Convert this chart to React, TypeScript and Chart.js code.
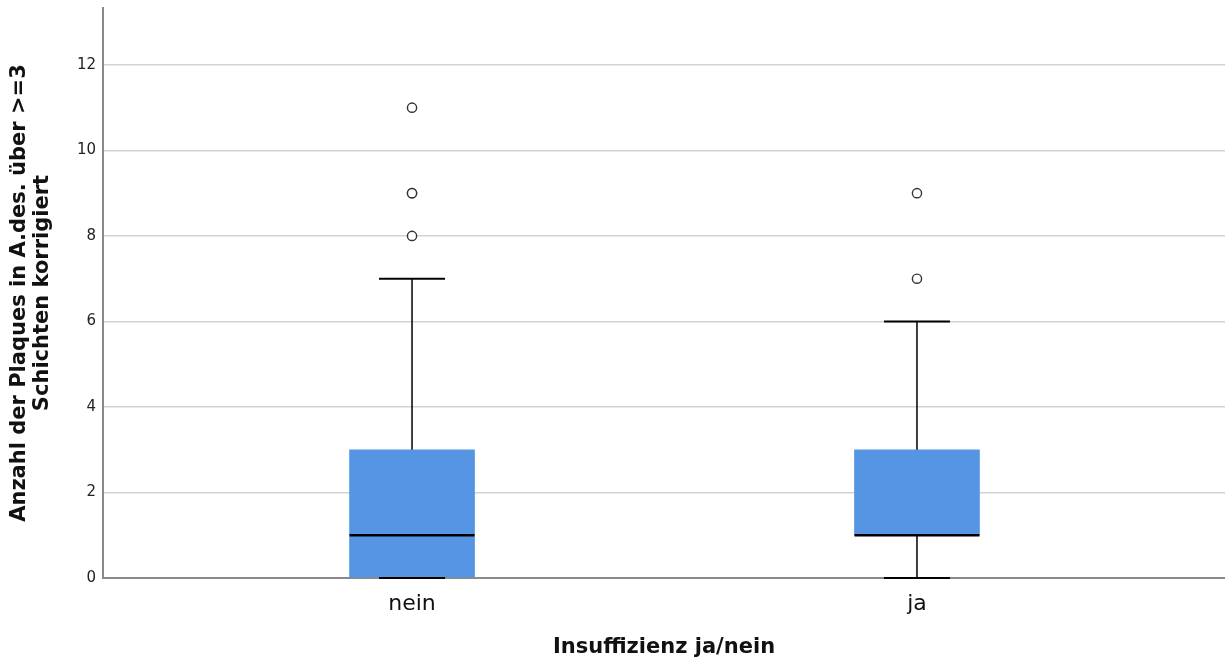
import React, { useEffect, useRef } from "react";
import { Chart, registerables } from "chart.js";

Chart.register(...registerables);

const categories = ["nein", "ja"];
const q1 = [0, 1];
const q3 = [3, 3];
const medians = [1, 1];
const whiskerLow = [0, 0];
const whiskerHigh = [7, 6];
const outliersNein = [8, 9, 9, 11];
const outliersJa = [7, 9];
const outliers = [outliersNein, outliersJa];
const yTicks = [0, 2, 4, 6, 8, 10, 12];

const FONT = "'DejaVu Sans', sans-serif";
const BOX_COLOR = "#5595e3";

const boxPlugin = {
  id: "boxWhiskers",
  afterDatasetsDraw(chart: any) {
    const { ctx, scales } = chart;
    const xs = scales.x;
    const ys = scales.y;
    const capHalf = 33;
    const boxHalf = 62.5;
    ctx.save();
    ctx.strokeStyle = "#000";
    categories.forEach((_, i) => {
      const cx = xs.getPixelForValue(i);
      ctx.lineWidth = 1.5;
      ctx.beginPath();
      ctx.moveTo(cx, ys.getPixelForValue(q3[i]));
      ctx.lineTo(cx, ys.getPixelForValue(whiskerHigh[i]));
      ctx.stroke();
      ctx.beginPath();
      ctx.moveTo(cx, ys.getPixelForValue(q1[i]));
      ctx.lineTo(cx, ys.getPixelForValue(whiskerLow[i]));
      ctx.stroke();
      ctx.lineWidth = 2;
      [whiskerHigh[i], whiskerLow[i]].forEach((v) => {
        const py = ys.getPixelForValue(v);
        ctx.beginPath();
        ctx.moveTo(cx - capHalf, py);
        ctx.lineTo(cx + capHalf, py);
        ctx.stroke();
      });
      ctx.lineWidth = 2.5;
      const my = ys.getPixelForValue(medians[i]);
      ctx.beginPath();
      ctx.moveTo(cx - boxHalf, my);
      ctx.lineTo(cx + boxHalf, my);
      ctx.stroke();
      // outliers
      ctx.lineWidth = 1.4;
      ctx.strokeStyle = "#333";
      ctx.fillStyle = "#fff";
      outliers[i].forEach((v) => {
        ctx.beginPath();
        ctx.arc(cx, ys.getPixelForValue(v), 4.6, 0, Math.PI * 2);
        ctx.fill();
        ctx.stroke();
      });
      ctx.strokeStyle = "#000";
    });
    ctx.restore();
  },
};

export default function App() {
  const ref = useRef<HTMLCanvasElement | null>(null);
  useEffect(() => {
    if (!ref.current) return;
    const chart = new Chart(ref.current, {
      type: "bar",
      data: {
        datasets: [
          {
            type: "bar",
            data: categories.map((_, i) => ({ x: i, y: [q1[i], q3[i]] })) as any,
            backgroundColor: BOX_COLOR,
            borderWidth: 0,
            barThickness: 125,
          } as any,
        ],
      },
      options: {
        animation: false,
        responsive: true,
        maintainAspectRatio: false,
        layout: { padding: { top: 8, right: 0, left: 0, bottom: 0 } },
        plugins: { legend: { display: false }, tooltip: { enabled: false } },
        scales: {
          x: {
            type: "linear",
            offset: false,
            min: -0.612,
            max: 1.61,
            grid: { display: false, drawTicks: false, offset: false },
            border: { display: true, color: "#8a8a8a", width: 2 },
            afterBuildTicks: (s: any) => {
              s.ticks = categories.map((_, i) => ({ value: i }));
            },
            afterFit: (s: any) => {
              s.height = 84;
              s.paddingLeft = 0;
              s.paddingRight = 0;
            },
            ticks: {
              callback: (v: any) => categories[v as number] ?? "",
              font: { family: FONT, size: 22 },
              color: "#111",
              padding: 13,
              maxRotation: 0,
            },
            title: {
              display: true,
              text: "Insuffizienz ja/nein",
              font: { family: FONT, size: 21, weight: "bold" },
              color: "#111",
              padding: { top: 0, bottom: 2 },
            },
          },
          y: {
            type: "linear",
            min: 0,
            max: 13.33,
            grid: { color: "#d3d3d3", lineWidth: 1.5, drawTicks: false },
            border: { display: true, color: "#8a8a8a", width: 2 },
            afterBuildTicks: (s: any) => {
              s.ticks = yTicks.map((v) => ({ value: v }));
            },
            afterFit: (s: any) => {
              s.width = 103;
              s.paddingTop = 0;
              s.paddingBottom = 0;
            },
            ticks: {
              font: { family: FONT, size: 15 },
              color: "#222",
              padding: 7,
            },
            title: {
              display: true,
              text: ["Anzahl der Plaques in A.des. über >=3", "Schichten korrigiert"],
              font: { family: FONT, size: 21, weight: "bold", lineHeight: 1.1 },
              color: "#111",
              padding: { top: 8, bottom: 0 },
            },
          },
        },
      },
      plugins: [boxPlugin],
    });
    return () => chart.destroy();
  }, []);
  return (
    <div style={{ position: "fixed", left: 0, top: 0, width: 1225, height: 662, background: "#fff" }}>
      <canvas ref={ref} />
    </div>
  );
}
